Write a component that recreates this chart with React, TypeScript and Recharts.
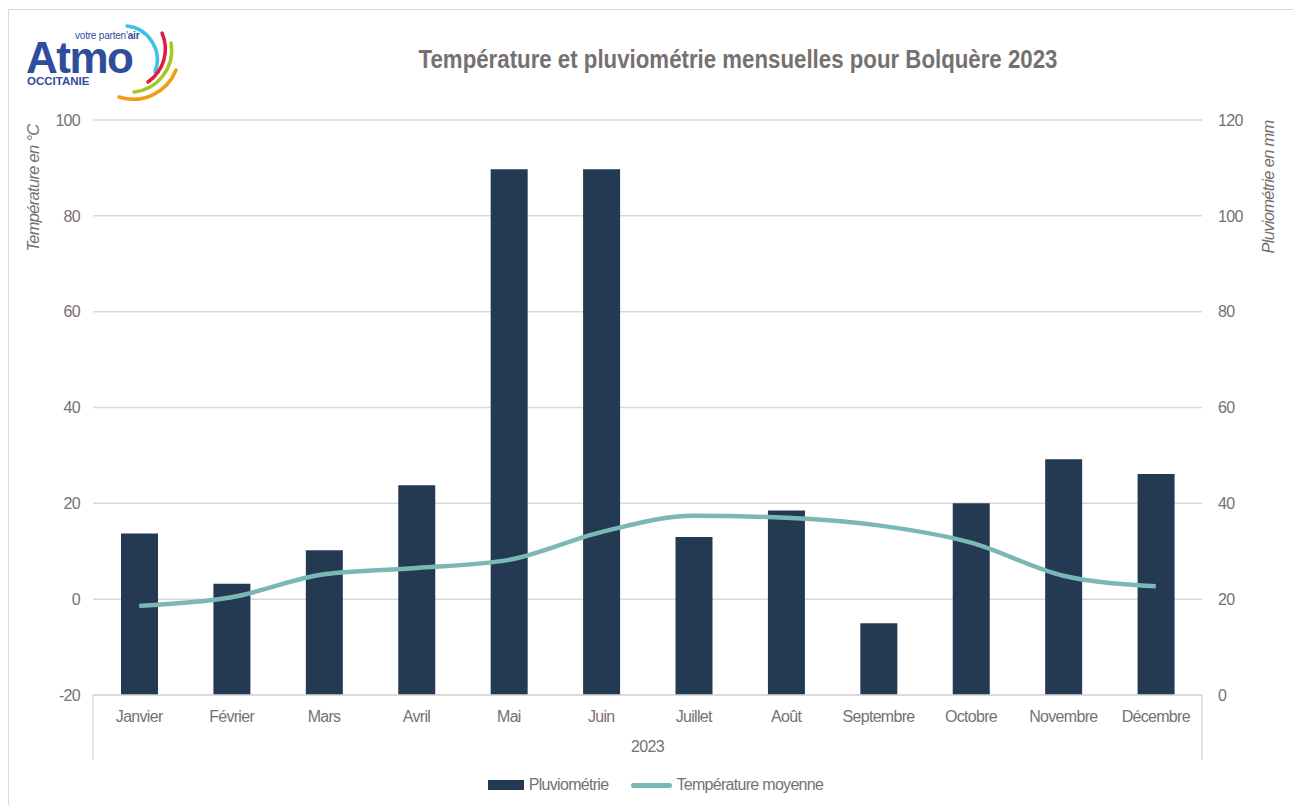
import React from 'react';
import { ComposedChart, Bar, Line, XAxis, YAxis, CartesianGrid, Legend } from 'recharts';

const months = ['Janvier', 'Février', 'Mars', 'Avril', 'Mai', 'Juin', 'Juillet', 'Août', 'Septembre', 'Octobre', 'Novembre', 'Décembre'];
const pluviometrie = [33.7, 23.2, 30.2, 43.8, 109.7, 109.7, 33.0, 38.5, 15.0, 40.0, 49.2, 46.1];
const temperature = [-1.4, 0.4, 5.2, 6.5, 8.2, 14.0, 17.4, 17.0, 15.4, 11.8, 4.9, 2.7];
const tempTicks = [-20, 0, 20, 40, 60, 80, 100];
const pluvioTicks = [0, 20, 40, 60, 80, 100, 120];

const data = months.map((m, i) => ({ mois: m, pluvio: pluviometrie[i], temp: temperature[i] }));

// no Arial Narrow here: Liberation Sans squeezed a little
const FONT = "'Liberation Sans', Arial, sans-serif";
const LS = -0.7;
const GREY = '#767171';
const BAR = '#243a52';
const LINE = '#7ab8b6';

const tickStyle = { fill: GREY, fontSize: 16, fontFamily: FONT, letterSpacing: LS };

const Logo = () => (
  <svg width={200} height={110} style={{ position: 'absolute', left: 0, top: 0 }}>
    <text x={75} y={39} fontFamily={FONT} fontSize={10} letterSpacing={-0.2} fill="#2e4d9c">
      votre parten'<tspan fontWeight="bold">air</tspan>
    </text>
    <text x={26} y={73} fontFamily={FONT} fontSize={44} fontWeight="bold" fill="#2e4d9c" letterSpacing={-1.5}>
      Atmo
    </text>
    <text x={27} y={85} fontFamily={FONT} fontSize={11.5} fontWeight="bold" fill="#2e4d9c">
      OCCITANIE
    </text>
    <path d="M127,26 A34,34 0 0 1 155,72" stroke="#3ec1e8" strokeWidth={3.5} fill="none" strokeLinecap="round" />
    <path d="M162,33 A40,40 0 0 1 148,82" stroke="#e4193d" strokeWidth={3.5} fill="none" strokeLinecap="round" />
    <path d="M171,43 A42,42 0 0 1 134,92" stroke="#a6c825" strokeWidth={3.5} fill="none" strokeLinecap="round" />
    <path d="M176,70 A46,46 0 0 1 119,97" stroke="#f39c12" strokeWidth={3.5} fill="none" strokeLinecap="round" />
  </svg>
);

const CategoryGroupLabel = ({ viewBox }: any) => {
  const { x, y, width, height } = viewBox;
  return (
    <g>
      <line x1={x} y1={y} x2={x} y2={y + height} stroke="#d9d9d9" strokeWidth={1.5} />
      <line x1={x + width} y1={y} x2={x + width} y2={y + height} stroke="#d9d9d9" strokeWidth={1.5} />
      <text x={x + width / 2} y={y + 57} textAnchor="middle" fontFamily={FONT} fontSize={16} letterSpacing={LS} fill={GREY}>
        2023
      </text>
    </g>
  );
};

const LeftAxisLabel = ({ viewBox }: any) => {
  const cx = viewBox.x + 33;
  const cy = viewBox.y + 68;
  return (
    <text x={cx} y={cy} transform={`rotate(-90, ${cx}, ${cy})`} textAnchor="middle" dominantBaseline="central"
      fontFamily={FONT} fontSize={16.5} letterSpacing={LS} fontStyle="italic" fill={GREY}>
      Température en °C
    </text>
  );
};

const RightAxisLabel = ({ viewBox }: any) => {
  const cx = viewBox.x + 66;
  const cy = viewBox.y + 67;
  return (
    <text x={cx} y={cy} transform={`rotate(-90, ${cx}, ${cy})`} textAnchor="middle" dominantBaseline="central"
      fontFamily={FONT} fontSize={16.5} letterSpacing={LS} fontStyle="italic" fill={GREY}>
      Pluviométrie en mm
    </text>
  );
};

const LegendContent = () => (
  <div style={{ height: 20, paddingLeft: 18, display: 'flex', justifyContent: 'center', alignItems: 'center', fontFamily: FONT, fontSize: 16, letterSpacing: LS, color: GREY }}>
    <span style={{ display: 'inline-block', width: 36, height: 10, background: BAR, marginRight: 5 }} />
    <span style={{ marginRight: 23 }}>Pluviométrie</span>
    <span style={{ display: 'inline-block', width: 41, height: 5, borderRadius: 3, background: LINE, marginRight: 4 }} />
    <span>Température moyenne</span>
  </div>
);

export default function App() {
  return (
    <div style={{ position: 'absolute', left: 0, top: 0, width: 1293, height: 805, background: '#fff', overflow: 'hidden' }}>
      <div style={{ position: 'absolute', left: 8, top: 9, width: 1300, height: 820, border: '1.5px solid #d9d9d9' }} />
      <Logo />
      <div style={{ position: 'absolute', left: 0, width: 1476, top: 45, textAlign: 'center', fontFamily: FONT, fontSize: 25, fontWeight: 'bold', color: GREY, transform: 'scaleX(0.89)', transformOrigin: '738px 0' }}>
        Température et pluviométrie mensuelles pour Bolquère 2023
      </div>
      <div style={{ position: 'absolute', left: 0, top: 0 }}>
        <ComposedChart width={1293} height={805} data={data} margin={{ top: 120, right: 0, left: 0, bottom: 25 }}>
          <CartesianGrid vertical={false} stroke="#d9d9d9" strokeWidth={1.5} yAxisId="left" />
          <XAxis
            dataKey="mois"
            height={65}
            tickLine={false}
            tickMargin={10}
            axisLine={{ stroke: '#d9d9d9', strokeWidth: 1.5 }}
            tick={tickStyle}
            interval={0}
            label={<CategoryGroupLabel />}
          />
          <YAxis
            yAxisId="left"
            orientation="left"
            width={93}
            domain={[-20, 100]}
            ticks={tempTicks}
            axisLine={false}
            tickLine={false}
            tickSize={0}
            tickMargin={13}
            tick={tickStyle}
            label={<LeftAxisLabel />}
          />
          <YAxis
            yAxisId="right"
            orientation="right"
            width={91}
            domain={[0, 120]}
            ticks={pluvioTicks}
            axisLine={false}
            tickLine={false}
            tickSize={0}
            tickMargin={16}
            tick={tickStyle}
            label={<RightAxisLabel />}
          />
          <Legend verticalAlign="bottom" content={<LegendContent />} wrapperStyle={{ bottom: 10, left: 0, width: 1293 }} />
          <Bar yAxisId="right" dataKey="pluvio" name="Pluviométrie" fill={BAR} barSize={37} isAnimationActive={false} />
          <Line yAxisId="left" dataKey="temp" name="Température moyenne" type="monotone" stroke={LINE} strokeWidth={4.5} dot={false} isAnimationActive={false} />
        </ComposedChart>
      </div>
    </div>
  );
}
